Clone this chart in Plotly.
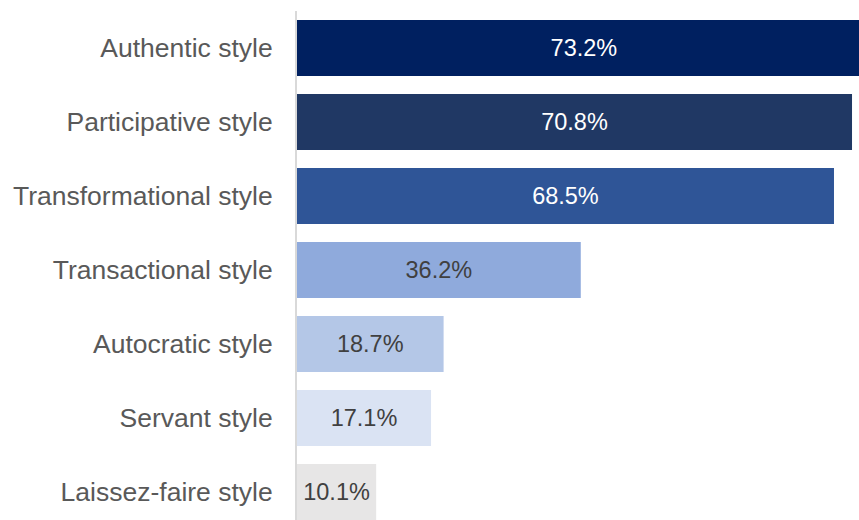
import plotly.graph_objects as go

categories = ["Authentic style", "Participative style", "Transformational style",
              "Transactional style", "Autocratic style", "Servant style", "Laissez-faire style"]
values = [73.2, 70.8, 68.5, 36.2, 18.7, 17.1, 10.1]
labels = ["73.2%", "70.8%", "68.5%", "36.2%", "18.7%", "17.1%", "10.1%"]
bar_colors = ["#002060", "#203864", "#2F5597", "#8FAADC", "#B4C7E7", "#DAE3F3", "#E7E6E6"]
text_colors = ["#FFFFFF", "#FFFFFF", "#FFFFFF", "#404040", "#404040", "#404040", "#404040"]

fig = go.Figure(go.Bar(
    x=values, y=categories, orientation="h",
    marker=dict(color=bar_colors, line=dict(width=0)),
    text=labels, textposition="inside", insidetextanchor="middle",
    textangle=0,
    insidetextfont=dict(family="Liberation Sans, Arial", size=23.5, color=text_colors),
    cliponaxis=True,
))

fig.update_layout(
    width=859, height=520,
    margin=dict(l=297, r=0, t=11, b=0, pad=0),
    paper_bgcolor="white", plot_bgcolor="white",
    bargap=0.243,
    showlegend=False,
    uniformtext=dict(mode=False),
)
fig.update_xaxes(range=[0, 71.69], visible=False, showgrid=False, zeroline=False)
fig.update_yaxes(
    type="category", categoryorder="array", categoryarray=categories,
    range=[6.378, -0.5],
    showgrid=False, zeroline=False,
    showline=True, linecolor="#D9D9D9", linewidth=2,
    ticks="", ticklabelstandoff=17,
    tickfont=dict(family="Liberation Sans, Arial", size=26.5, color="#595959"),
)

fig.write_html("out.html")
